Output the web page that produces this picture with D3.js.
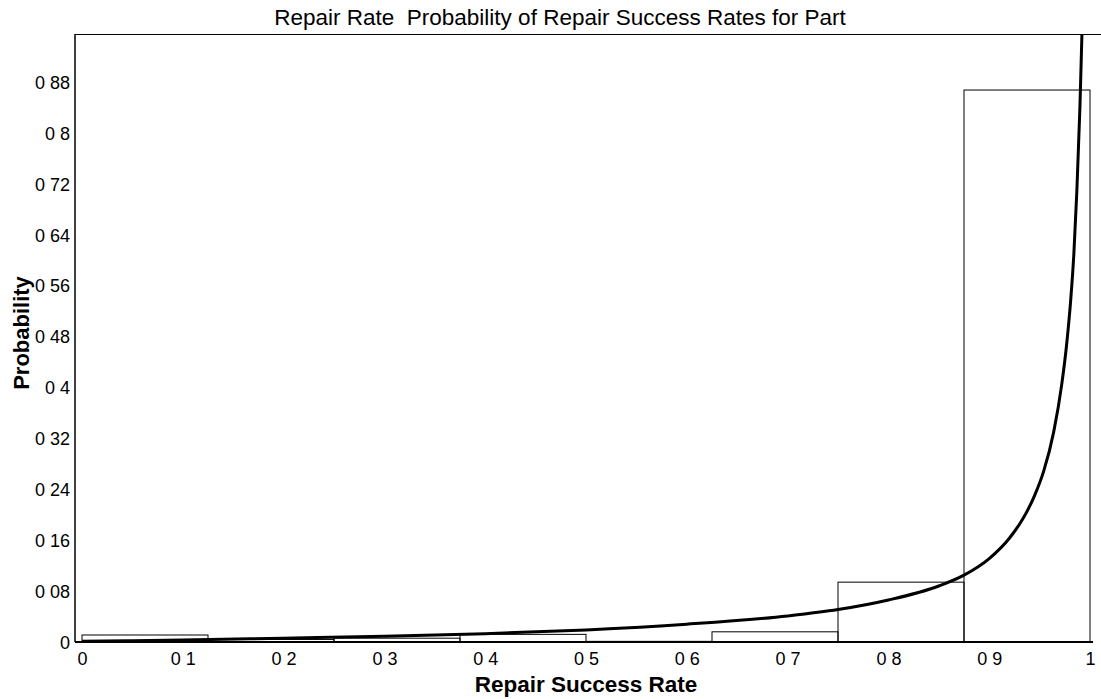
<!DOCTYPE html>
<html>
<head>
<meta charset="utf-8">
<script src="https://cdn.jsdelivr.net/npm/d3@7/dist/d3.min.js"></script>
<style>
  html, body { margin: 0; padding: 0; background: #fff; }
  svg { display: block; }
  text { font-family: "Liberation Sans", Arial, sans-serif; fill: #000; }
</style>
</head>
<body>
<svg id="chart" width="1101" height="699"></svg>
<script>
// Histogram bins of repair success rate and their probabilities
const binLow  = [0, 0.125, 0.25, 0.375, 0.5, 0.625, 0.75, 0.875];
const binHigh = [0.125, 0.25, 0.375, 0.5, 0.625, 0.75, 0.875, 1.0];
const binProb = [0.011, 0.004, 0.006, 0.012, 0.001, 0.016, 0.094, 0.867];

// Fitted density curve
const curveX = [0, 0.05, 0.1, 0.2, 0.3, 0.4, 0.5, 0.6, 0.7, 0.75, 0.8, 0.85, 0.875,
                0.9, 0.92, 0.934, 0.945, 0.954, 0.964, 0.972, 0.977, 0.981, 0.984, 0.987, 0.99, 0.992];
const curveY = [0.001, 0.002, 0.003, 0.006, 0.009, 0.013, 0.019, 0.028, 0.041, 0.051, 0.066, 0.088, 0.105,
                0.131, 0.163, 0.195, 0.230, 0.268, 0.330, 0.405, 0.470, 0.540, 0.610, 0.710, 0.840, 0.955];

// Axis ticks
const xTickValues = [0, 0.1, 0.2, 0.3, 0.4, 0.5, 0.6, 0.7, 0.8, 0.9, 1];
const xTickLabels = ["0", "0 1", "0 2", "0 3", "0 4", "0 5", "0 6", "0 7", "0 8", "0 9", "1"];
const yTickValues = [0, 0.08, 0.16, 0.24, 0.32, 0.4, 0.48, 0.56, 0.64, 0.72, 0.8, 0.88];
const yTickLabels = ["0", "0 08", "0 16", "0 24", "0 32", "0 4", "0 48", "0 56", "0 64", "0 72", "0 8", "0 88"];

const titleText = "Repair Rate  Probability of Repair Success Rates for Part";
const xTitle = "Repair Success Rate";
const yTitle = "Probability";

const svg = d3.select("#chart");
const frame = { left: 75, top: 34, bottom: 642, right: 1101 };

const x = d3.scaleLinear().domain([0, 1]).range([82, 1090]);
const y = d3.scaleLinear().domain([0, 0.955]).range([frame.bottom, frame.top]);

svg.append("defs").append("clipPath").attr("id", "plotClip")
  .append("rect")
  .attr("x", frame.left).attr("y", frame.top)
  .attr("width", frame.right - frame.left).attr("height", frame.bottom - frame.top);

// Histogram bars (outlined)
const bins = binProb.map((p, i) => ({ lo: binLow[i], hi: binHigh[i], p }));
svg.append("g").selectAll("rect").data(bins).join("rect")
  .attr("x", d => x(d.lo))
  .attr("y", d => y(d.p))
  .attr("width", d => x(d.hi) - x(d.lo))
  .attr("height", d => y(0) - y(d.p))
  .attr("fill", "none")
  .attr("stroke", "#000")
  .attr("stroke-width", 1);

// Density curve
const line = d3.line()
  .x(d => x(d[0]))
  .y(d => y(d[1]))
  .curve(d3.curveMonotoneX);
svg.append("path")
  .datum(curveX.map((v, i) => [v, curveY[i]]))
  .attr("clip-path", "url(#plotClip)")
  .attr("d", line)
  .attr("fill", "none")
  .attr("stroke", "#000")
  .attr("stroke-width", 3)
  .attr("stroke-linejoin", "round");

// Frame lines
svg.append("line")
  .attr("x1", frame.left).attr("x2", frame.right)
  .attr("y1", frame.top + 0.5).attr("y2", frame.top + 0.5)
  .attr("stroke", "#000").attr("stroke-width", 1);
svg.append("line")
  .attr("x1", frame.left).attr("x2", frame.left)
  .attr("y1", frame.top).attr("y2", frame.bottom)
  .attr("stroke", "#000").attr("stroke-width", 1.5);
svg.append("line")
  .attr("x1", frame.left).attr("x2", x(1) + 3)
  .attr("y1", frame.bottom).attr("y2", frame.bottom)
  .attr("stroke", "#000").attr("stroke-width", 2);

// Axes (labels only, no tick marks)
const xAxis = d3.axisBottom(x)
  .tickValues(xTickValues)
  .tickFormat((d, i) => xTickLabels[i])
  .tickSize(0).tickPadding(0);
const gx = svg.append("g").attr("transform", `translate(0,${frame.bottom})`).call(xAxis);
gx.select(".domain").remove();
gx.selectAll("text")
  .attr("dy", null).attr("y", 23)
  .style("font-size", "18px")
  .style("font-family", "'Liberation Sans', Arial, sans-serif")
  .attr("fill", "#000");

const yAxis = d3.axisLeft(y)
  .tickValues(yTickValues)
  .tickFormat((d, i) => yTickLabels[i])
  .tickSize(0).tickPadding(0);
const gy = svg.append("g").attr("transform", `translate(70,0)`).call(yAxis);
gy.select(".domain").remove();
gy.selectAll("text")
  .attr("x", 0).attr("dy", "0.36em")
  .style("font-size", "18px")
  .style("font-family", "'Liberation Sans', Arial, sans-serif")
  .attr("fill", "#000");

// Titles
svg.append("text")
  .attr("x", 560).attr("y", 25)
  .attr("text-anchor", "middle")
  .style("font-size", "22.5px")
  .style("white-space", "pre")
  .text(titleText);

svg.append("text")
  .attr("x", (x(0) + x(1)) / 2).attr("y", 692)
  .attr("text-anchor", "middle")
  .style("font-size", "22.5px").style("font-weight", "bold")
  .text(xTitle);

svg.append("text")
  .attr("transform", "translate(29,333) rotate(-90)")
  .attr("text-anchor", "middle")
  .style("font-size", "22px").style("font-weight", "bold")
  .text(yTitle);
</script>
</body>
</html>
